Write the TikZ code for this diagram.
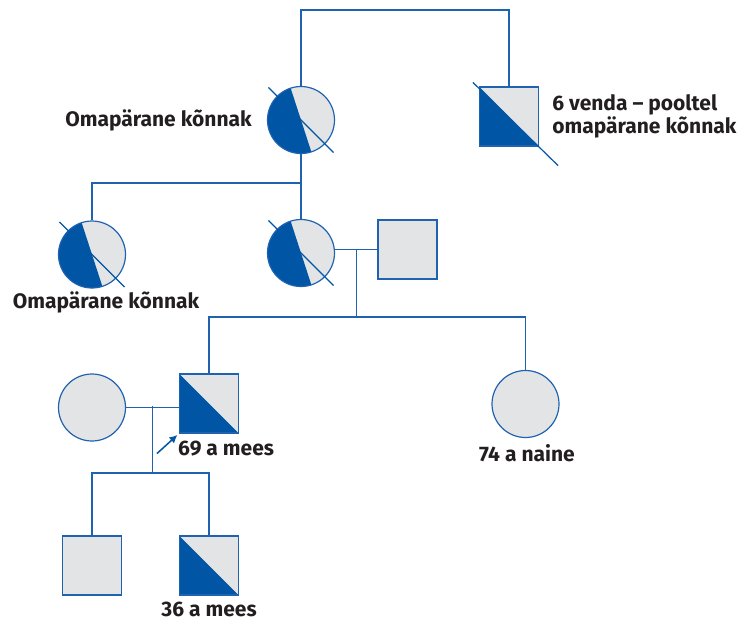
\documentclass[tikz,border=0pt]{standalone}
\usepackage{fontspec}
\setmainfont{Fira Sans}
\usetikzlibrary{calc,arrows.meta}
\definecolor{dblue}{HTML}{0055A5}
\definecolor{lblue}{HTML}{1F62B0}
\definecolor{lgray}{HTML}{E3E4E6}
\definecolor{txt}{HTML}{231F20}
\tikzset{
  conn/.style={draw=lblue, line width=1.2pt},
  slash/.style={draw=dblue, line width=1.2pt},
  fem/.style={circle, draw=lblue, fill=lgray, minimum size=67pt, inner sep=0pt, line width=1.2pt},
  femaff/.style={fem, path picture={
     \fill[dblue] ($(path picture bounding box.center)+(108:60pt)$) -- ($(path picture bounding box.center)+(198:60pt)$) -- ($(path picture bounding box.center)+(288:60pt)$) -- cycle;}},
  mal/.style={rectangle, draw=lblue, fill=lgray, minimum size=59pt, inner sep=0pt, line width=1.2pt},
  malaff/.style={mal, path picture={
     \fill[dblue] (path picture bounding box.north west) -- (path picture bounding box.south west) -- (path picture bounding box.south east) -- cycle;}},
  lab/.style={font=\bfseries\fontsize{21}{23.5}\selectfont, text=txt, inner sep=0pt}
}
\begin{document}
\begin{tikzpicture}[x=1pt,y=-1pt]
\useasboundingbox (0,0) rectangle (748,622);
% nodes
\node[femaff] (gm) at (301,120) {};
\node[malaff] (gf) at (509,116.5) {};
\node[femaff] (a1) at (92,254.5) {};
\node[femaff] (m) at (301,253) {};
\node[mal] (f) at (407.5,249.5) {};
\node[fem] (w) at (92,407.5) {};
\node[malaff] (p) at (209,403.5) {};
\node[fem] (s) at (525.5,404) {};
\node[mal] (c1) at (92,565.5) {};
\node[malaff] (c2) at (209,565.5) {};
% slashes (deceased)
\foreach \n in {gm,a1,m}{
  \draw[slash] ($(\n.center)+(135:46pt)$) -- ($(\n.center)+(-45:46pt)$);
}
\draw[slash] ($(gf.north west)+(-6pt,4pt)$) -- ($(gf.south east)+(19pt,-19pt)$);
% coordinates
\coordinate (top) at (0,10);
\coordinate (sib1) at (0,183);
\coordinate (sib2) at (0,317);
\coordinate (sib3) at (0,473);
% connectors
\draw[conn] (gm.north) -- (gm.north |- top) -| (gf.north);
\draw[conn] (gm.south) -- (m.north);
\draw[conn] (a1.north) |- (gm.south |- sib1);
\draw[conn] (m.east |- f.west) -- (f.west);
\coordinate (cm) at ($(m.east)!0.5!(f.west)$);
\draw[conn] (cm |- f.west) -- (cm |- sib2);
\draw[conn] (p.north) |- (sib2 -| s.north) -- (s.north);
\draw[conn] (w.east) -- (w.east -| p.west);
\coordinate (cw) at ($(w.east)!0.5!(p.west)$);
\draw[conn] (cw) -- (cw |- sib3);
\draw[conn] (c1.north) |- (sib3 -| c2.north) -- (c2.north);
% proband arrow
\draw[draw=dblue, line width=1.5pt, -{Latex[length=8pt,width=8pt]}, shorten >=2pt] ($(p.south west)+(-22pt,-20pt)$) -- (p.south west);
% labels
\node[lab, anchor=east] (l1) at ($(gm.west)+(-15pt,0)$) {Omapärane kõnnak};
\node[lab, anchor=west, align=left] (l2) at ($(gf.east)+(13pt,0)$) {6 venda – pooltel\\omapärane kõnnak};
\node[lab] (l3) at (106,302) {Omapärane kõnnak};
\node[lab, anchor=west] (l4) at (178,449) {69 a mees};
\node[lab] (l5) at (527,453) {74 a naine};
\node[lab] (l6) at (209,609) {36 a mees};
\end{tikzpicture}
\end{document}
